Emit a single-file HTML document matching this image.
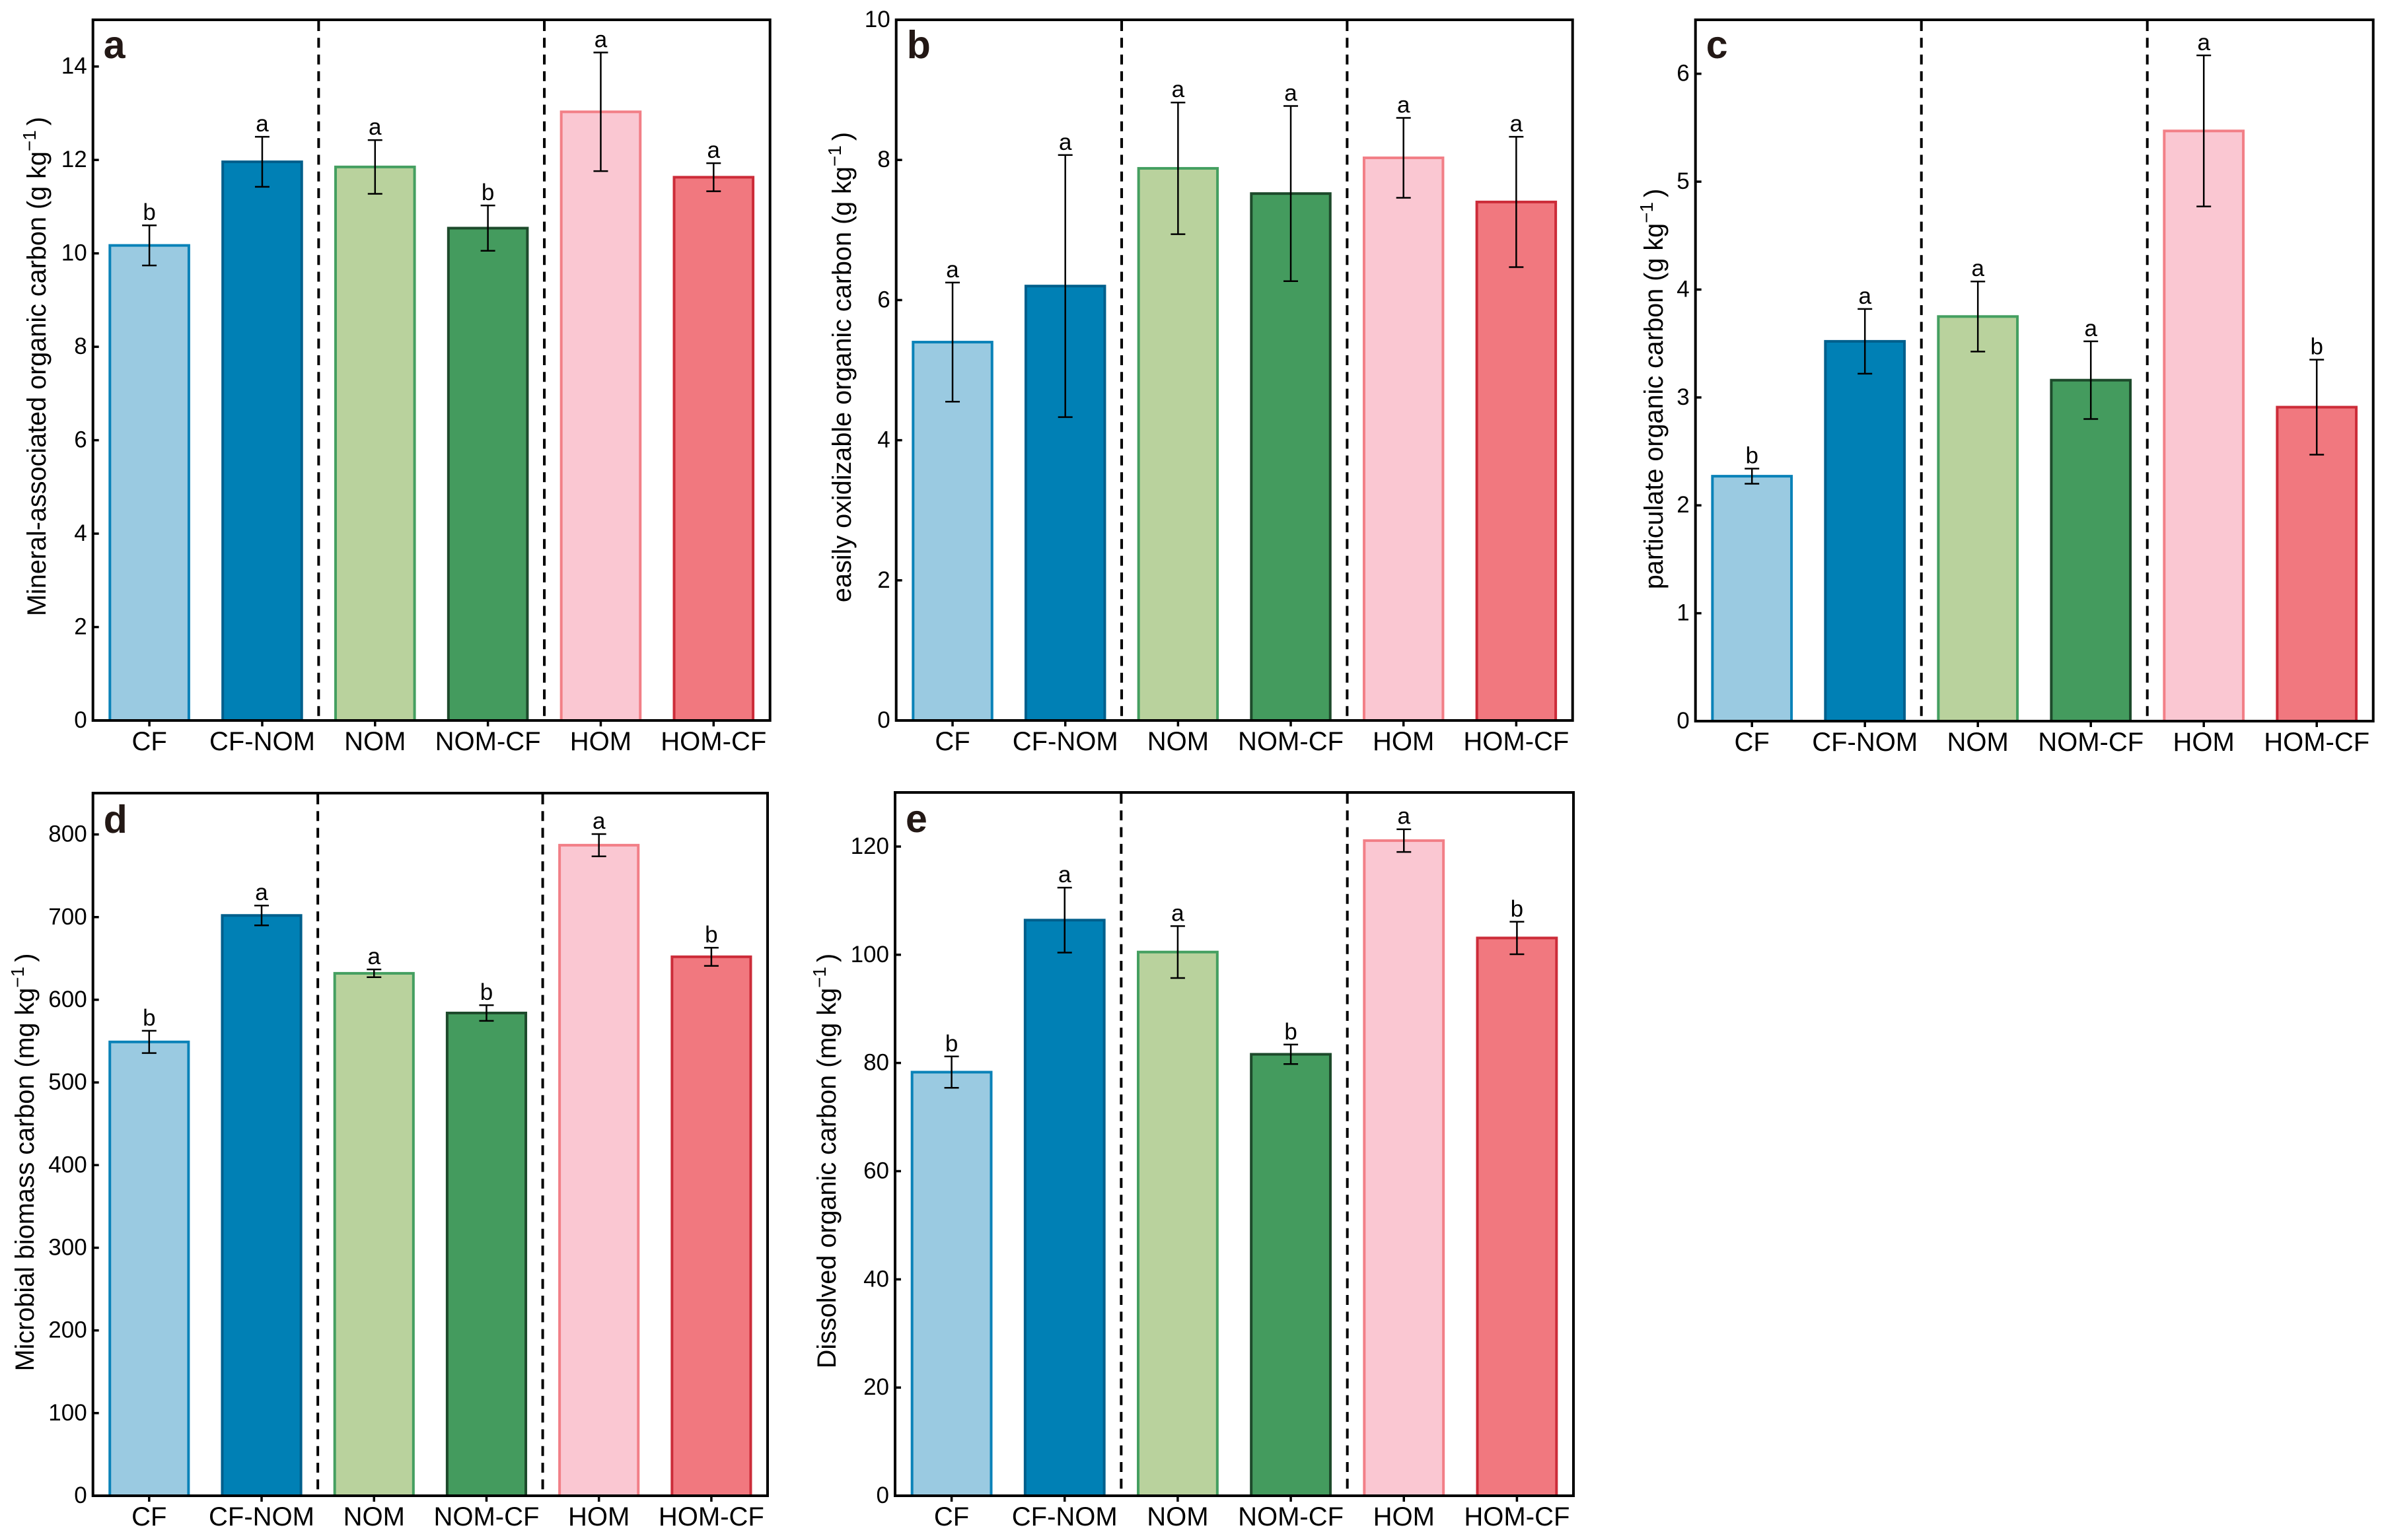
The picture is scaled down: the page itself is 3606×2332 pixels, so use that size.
<!DOCTYPE html>
<html lang="en">
<head>
<meta charset="utf-8">
<title>Soil organic carbon fractions by treatment</title>
<style>
html,body{margin:0;padding:0;background:#fff;}
svg{display:block;}
text{font-family:"Liberation Sans",Arial,sans-serif;fill:#000;}
</style>
</head>
<body>
<svg id="figure" xmlns="http://www.w3.org/2000/svg" width="3606" height="2332" viewBox="0 0 3606 2332"></svg>
<script>
const categories = ["CF", "CF-NOM", "NOM", "NOM-CF", "HOM", "HOM-CF"];
const fillColors = ["#9ACAE1", "#0080B5", "#B9D29D", "#449B5E", "#FAC7D2", "#F1787F"];
const edgeColors = ["#0A82B8", "#005F8C", "#449F60", "#1D4A2B", "#F27F87", "#CC2C39"];

const valuesA = [10.17, 11.96, 11.85, 10.54, 13.03, 11.63];
const errorsA = [0.43, 0.535, 0.575, 0.485, 1.27, 0.30];
const lettersA = ["b", "a", "a", "b", "a", "a"];
const ticksA = [0, 2, 4, 6, 8, 10, 12, 14];

const valuesB = [5.40, 6.20, 7.88, 7.52, 8.03, 7.40];
const errorsB = [0.85, 1.87, 0.94, 1.25, 0.57, 0.93];
const lettersB = ["a", "a", "a", "a", "a", "a"];
const ticksB = [0, 2, 4, 6, 8, 10];

const valuesC = [2.27, 3.52, 3.75, 3.16, 5.47, 2.91];
const errorsC = [0.07, 0.30, 0.325, 0.36, 0.70, 0.44];
const lettersC = ["b", "a", "a", "a", "a", "b"];
const ticksC = [0, 1, 2, 3, 4, 5, 6];

const valuesD = [549, 702, 632, 584, 787, 652];
const errorsD = [13.5, 12, 4.7, 9.5, 13.5, 11];
const lettersD = ["b", "a", "a", "b", "a", "b"];
const ticksD = [0, 100, 200, 300, 400, 500, 600, 700, 800];

const valuesE = [78.3, 106.4, 100.5, 81.6, 121.1, 103.1];
const errorsE = [2.9, 6, 4.8, 1.8, 2.1, 3];
const lettersE = ["b", "a", "a", "b", "a", "b"];
const ticksE = [0, 20, 40, 60, 80, 100, 120];

const separators = [1.5, 3.5];

const panels = [
  {id:"a", vals:valuesA, errs:errorsA, sig:lettersA, ticks:ticksA, yMax:15,  left:140.7,  right:1165.7, top:30,   bottom:1091,
   title:"Mineral-associated organic carbon (g kg", titleX:69,   titleY:555},
  {id:"b", vals:valuesB, errs:errorsB, sig:lettersB, ticks:ticksB, yMax:10,  left:1356.7, right:2380.7, top:30,   bottom:1091,
   title:"easily oxidizable organic carbon (g kg", titleX:1288, titleY:556},
  {id:"c", vals:valuesC, errs:errorsC, sig:lettersC, ticks:ticksC, yMax:6.5, left:2566.7, right:3592.7, top:30,   bottom:1092,
   title:"particulate organic carbon (g kg", titleX:2517, titleY:589},
  {id:"d", vals:valuesD, errs:errorsD, sig:lettersD, ticks:ticksD, yMax:850, left:140.7,  right:1162,   top:1201, bottom:2265,
   title:"Microbial biomass carbon (mg kg", titleX:51,   titleY:1760},
  {id:"e", vals:valuesE, errs:errorsE, sig:lettersE, ticks:ticksE, yMax:130, left:1355,   right:2382,   top:1200, bottom:2265,
   title:"Dissolved organic carbon (mg kg", titleX:1265, titleY:1758}
];

const NS = "http://www.w3.org/2000/svg";
const root = document.getElementById("figure");

function make(parent, tag, attrs) {
  const node = document.createElementNS(NS, tag);
  for (const k in attrs) node.setAttribute(k, attrs[k]);
  parent.appendChild(node);
  return node;
}

panels.forEach(function (p) {
  const xPos = function (i) { return p.left + (i + 0.5) * (p.right - p.left) / categories.length; };
  const yPos = function (v) { return p.bottom - v * (p.bottom - p.top) / p.yMax; };
  const step = (p.right - p.left) / categories.length;
  const barW = step * 0.7;

  const g = make(root, "g", {});
  
  

  p.vals.forEach(function (v, i) {
    const bar = make(g, "rect", {
      x: xPos(i) - barW / 2, y: yPos(v), width: barW, height: p.bottom - yPos(v),
      fill: fillColors[i], stroke: edgeColors[i], "stroke-width": 4
    });
    
    
  });

  separators.forEach(function (s) {
    const sx = p.left + (s + 0.5) * step;
    const sep = make(g, "line", {
      x1: sx, x2: sx, y1: p.top + 2, y2: p.bottom - 2,
      stroke: "#000", "stroke-width": 4, "stroke-dasharray": "15 10.3"
    });
    
    
  });

  p.vals.forEach(function (v, i) {
    const cx = xPos(i);
    const hi = yPos(v + p.errs[i]);
    const lo = yPos(v - p.errs[i]);
    const eg = make(g, "g", {stroke: "#000", "stroke-width": 2.5});
    
    
    make(eg, "line", {x1: cx, x2: cx, y1: hi, y2: lo});
    make(eg, "line", {x1: cx - 11, x2: cx + 11, y1: hi, y2: hi});
    make(eg, "line", {x1: cx - 11, x2: cx + 11, y1: lo, y2: lo});

    const sigText = make(g, "text", {x: cx, y: hi - 8, "text-anchor": "middle", "font-size": 35});
    
    
    sigText.textContent = p.sig[i];

    const xt = make(g, "line", {x1: cx, x2: cx, y1: p.bottom, y2: p.bottom + 9, stroke: "#000", "stroke-width": 3.5});
    
    

    const xl = make(g, "text", {x: cx, y: p.bottom + 45, "text-anchor": "middle", "font-size": 40});
    
    
    xl.textContent = categories[i];
  });

  p.ticks.forEach(function (t) {
    const ty = yPos(t);
    const yt = make(g, "line", {x1: p.left, x2: p.left + 9, y1: ty, y2: ty, stroke: "#000", "stroke-width": 3.5});
    
    

    const yl = make(g, "text", {x: p.left - 9, y: ty + 11, "text-anchor": "end", "font-size": 35});
    
    
    yl.textContent = String(t);
  });

  const frame = make(g, "rect", {
    x: p.left, y: p.top, width: p.right - p.left, height: p.bottom - p.top,
    fill: "none", stroke: "#000", "stroke-width": 4
  });
  
  

  const tag = make(g, "text", {
    x: p.left + 16, y: p.top + (p.top > 100 ? 60 : 58),
    "font-size": 59, "font-weight": "bold", style: "fill:#231815"
  });
  
  
  tag.textContent = p.id;

  const title = make(g, "text", {
    x: 0, y: 0, "text-anchor": "middle", "font-size": 39.6,
    transform: "translate(" + p.titleX + " " + p.titleY + ") rotate(-90)"
  });
  
  
  title.appendChild(document.createTextNode(p.title));
  make(title, "tspan", {dy: -15, "font-size": 28}).textContent = "\u22121";
  make(title, "tspan", {dy: 15, dx: 7}).textContent = ")";
});
</script>
</body>
</html>
